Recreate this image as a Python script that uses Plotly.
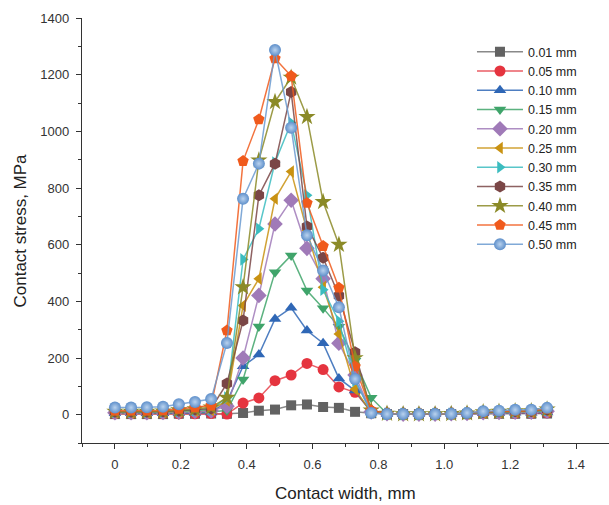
import plotly.graph_objects as go

# Contact width positions (mm)
x_mm = [0.000, 0.049, 0.097, 0.146, 0.194, 0.243, 0.292, 0.340, 0.389, 0.437,
        0.486, 0.535, 0.583, 0.632, 0.680, 0.729, 0.778, 0.826, 0.875, 0.923,
        0.972, 1.021, 1.069, 1.118, 1.166, 1.215, 1.264, 1.312]

series_names = ["0.01 mm", "0.05 mm", "0.10 mm", "0.15 mm", "0.20 mm", "0.25 mm",
                "0.30 mm", "0.35 mm", "0.40 mm", "0.45 mm", "0.50 mm"]

s001 = [2, 2, 2, 2, 3, 3, 4, 3, 6, 14, 18, 33, 36, 27, 24, 10, 5,
        2, 2, 2, 2, 2, 2, 3, 3, 3, 3, 4]
s005 = [3, 3, 3, 3, 3, 3, 4, 2, 41, 59, 120, 140, 181, 159, 98, 79, 12,
        2, 2, 2, 2, 2, 3, 4, 5, 5, 5, 6]
s010 = [5, 5, 5, 5, 6, 6, 8, 46, 171, 212, 338, 377, 297, 252, 128, 85, 8,
        2, 2, 2, 2, 3, 3, 5, 6, 7, 7, 8]
s015 = [6, 6, 6, 6, 8, 9, 10, 15, 124, 311, 503, 562, 438, 376, 310, 190, 60,
        3, 2, 2, 2, 3, 4, 6, 7, 8, 8, 10]
s020 = [7, 7, 7, 8, 9, 11, 13, 30, 200, 421, 673, 757, 587, 480, 252, 140, 10,
        3, 2, 2, 2, 3, 4, 7, 8, 9, 9, 12]
s025 = [8, 8, 8, 9, 11, 13, 16, 50, 385, 480, 762, 858, 650, 450, 285, 90, 8,
        3, 2, 2, 2, 3, 4, 7, 9, 10, 10, 13]
s030 = [9, 9, 9, 10, 12, 15, 18, 60, 548, 656, 890, 1030, 774, 441, 330, 120, 10,
        3, 2, 2, 2, 3, 5, 8, 10, 11, 11, 15]
s035 = [10, 10, 10, 11, 14, 18, 22, 110, 332, 774, 886, 1139, 664, 554, 420, 220, 12,
        4, 2, 2, 2, 3, 5, 9, 11, 12, 12, 17]
s040 = [11, 11, 11, 12, 16, 20, 26, 60, 450, 898, 1104, 1190, 1051, 751, 600, 200, 15,
        4, 2, 2, 2, 3, 5, 9, 11, 13, 13, 19]
s045 = [14, 14, 14, 15, 20, 26, 32, 297, 895, 1042, 1257, 1195, 747, 595, 448, 170, 15,
        4, 2, 2, 2, 3, 5, 10, 12, 14, 14, 21]
s050 = [25, 25, 26, 28, 37, 45, 55, 253, 762, 886, 1287, 1013, 633, 509, 379, 126, 6,
        2, 2, 2, 2, 3, 6, 12, 14, 17, 17, 24]

series_values = [s001, s005, s010, s015, s020, s025, s030, s035, s040, s045, s050]

marker_colors = ["#626262", "#e5343f", "#2f67b6", "#3fa46a", "#a07ab8", "#c99212",
                 "#3bbcbf", "#7a4646", "#8b8a27", "#f05a1c", "#5e8fca"]
line_colors = ["rgba(98,98,98,0.75)", "rgba(229,52,63,0.8)", "rgba(47,103,182,0.85)",
               "rgba(63,164,106,0.85)", "rgba(160,122,184,0.85)", "rgba(201,146,18,0.85)",
               "rgba(59,188,191,0.85)", "rgba(122,70,70,0.85)", "rgba(139,138,39,0.85)",
               "rgba(240,90,28,0.85)", "rgba(106,154,208,0.85)"]
symbols = ["square", "circle", "triangle-up", "triangle-down", "diamond",
           "triangle-left", "triangle-right", "hexagon", "star", "pentagon", "circle"]
sizes = [10, 11, 11, 11, 12, 11, 11, 12, 13, 12, 12]

x_tickvals = [0, 0.2, 0.4, 0.6, 0.8, 1.0, 1.2, 1.4]
x_ticktext = ["0", "0.2", "0.4", "0.6", "0.8", "1.0", "1.2", "1.4"]
y_tickvals = [0, 200, 400, 600, 800, 1000, 1200, 1400]

x_title = "Contact width, mm"
y_title = "Contact stress, MPa"

fig = go.Figure()
for name, vals, mc, lc, sym, sz in zip(series_names, series_values, marker_colors,
                                       line_colors, symbols, sizes):
    marker = dict(symbol=sym, size=sz, color=mc, line=dict(width=0))
    if name == "0.50 mm":
        marker["gradient"] = dict(type="radial", color="#b9d2ee")
    fig.add_trace(go.Scatter(
        x=x_mm, y=vals, name=name, mode="lines+markers",
        line=dict(color=lc, width=1.5),
        marker=marker,
    ))

font_family = "Arial, Liberation Sans, sans-serif"
axis_common = dict(showgrid=False, zeroline=False, showline=True, linecolor="#333333",
                   linewidth=1.3, ticks="outside", ticklen=5, tickwidth=1.2,
                   tickcolor="#333333", ticklabelstandoff=4, automargin=False,
                   tickfont=dict(size=13, color="#333333"))
fig.update_layout(
    width=609, height=505,
    margin=dict(l=82, r=0, t=18, b=62),
    paper_bgcolor="white", plot_bgcolor="white",
    font=dict(family=font_family, size=13, color="#333333"),
    showlegend=True,
    legend=dict(x=0.74, y=0.955, xanchor="left", yanchor="top",
                font=dict(size=12.5, color="#222222"), itemwidth=46,
                bgcolor="rgba(0,0,0,0)", tracegroupgap=0),
    xaxis=dict(range=[-0.1, 1.5], tickvals=x_tickvals, ticktext=x_ticktext,
               minor=dict(dtick=0.1, tick0=0, ticks="outside", ticklen=3,
                          tickwidth=1.1, tickcolor="#333333"),
               **axis_common),
    yaxis=dict(range=[-100, 1400], tickvals=y_tickvals,
               minor=dict(dtick=100, tick0=0, ticks="outside", ticklen=3,
                          tickwidth=1.1, tickcolor="#333333"),
               **axis_common),
    annotations=[
        dict(text=x_title, xref="paper", yref="paper", x=0.5, y=0,
             xanchor="center", yanchor="middle", yshift=-50, showarrow=False,
             font=dict(size=17, color="#222222")),
        dict(text=y_title, xref="paper", yref="paper", x=0, y=0.5,
             xanchor="center", yanchor="middle", xshift=-62, textangle=-90,
             showarrow=False, font=dict(size=17, color="#222222")),
    ],
)

fig.write_html("out.html")
